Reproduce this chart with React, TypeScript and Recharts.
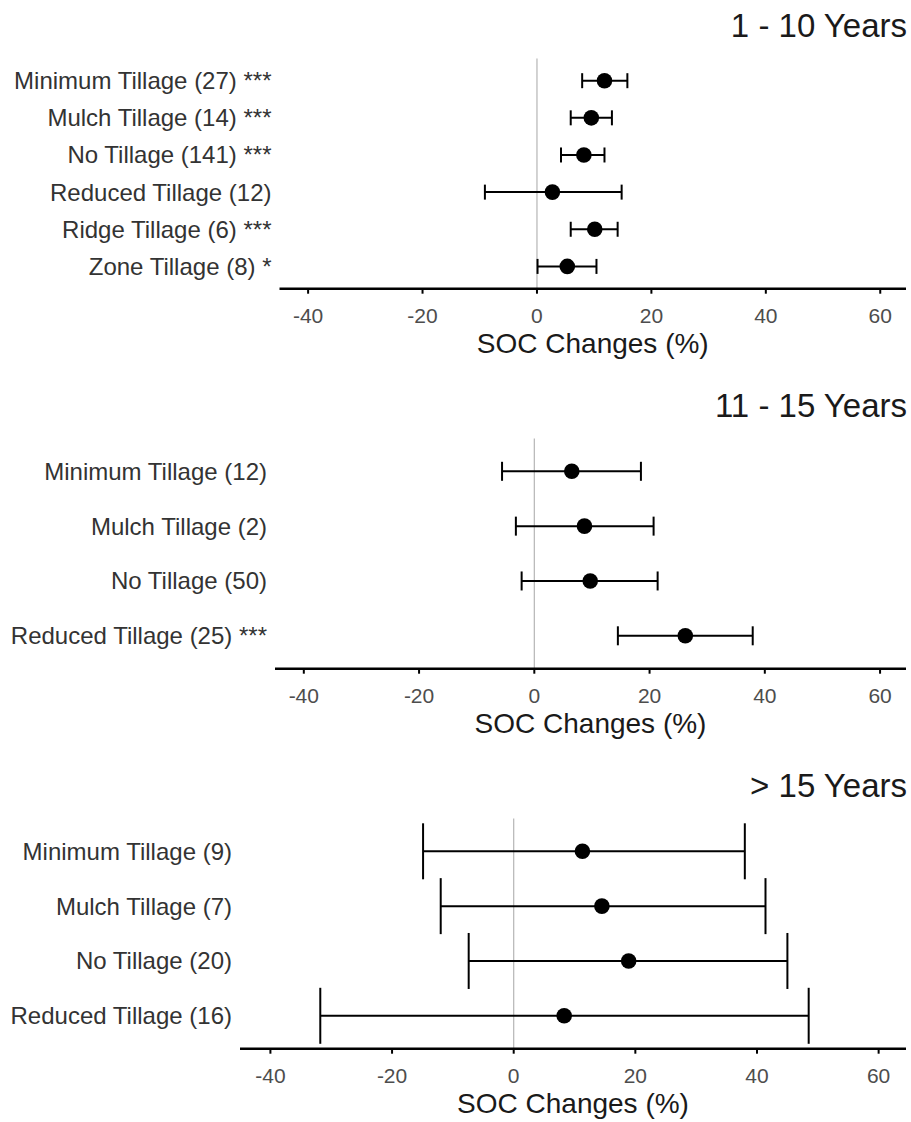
import React from 'react';
import { ScatterChart, Scatter, XAxis, YAxis, ErrorBar, ReferenceLine } from 'recharts';

const xTicks = [-40, -20, 0, 20, 40, 60];

// 1 - 10 years
const shortLabels = [
  'Minimum Tillage (27) ***',
  'Mulch Tillage (14) ***',
  'No Tillage (141) ***',
  'Reduced Tillage (12)',
  'Ridge Tillage (6) ***',
  'Zone Tillage (8) *',
];
const shortMean = [11.8, 9.5, 8.2, 2.7, 10.1, 5.3];
const shortLow = [7.9, 5.9, 4.2, -9.1, 5.9, 0.1];
const shortHigh = [15.8, 13.1, 11.8, 14.8, 14.1, 10.4];

// 11 - 15 years
const midLabels = [
  'Minimum Tillage (12)',
  'Mulch Tillage (2)',
  'No Tillage (50)',
  'Reduced Tillage (25) ***',
];
const midMean = [6.5, 8.7, 9.7, 26.2];
const midLow = [-5.6, -3.2, -2.2, 14.5];
const midHigh = [18.5, 20.7, 21.4, 37.9];

// > 15 years
const longLabels = [
  'Minimum Tillage (9)',
  'Mulch Tillage (7)',
  'No Tillage (20)',
  'Reduced Tillage (16)',
];
const longMean = [11.3, 14.5, 18.9, 8.3];
const longLow = [-14.9, -12.0, -7.4, -31.8];
const longHigh = [38.0, 41.4, 45.0, 48.5];

const FONT = '"Liberation Sans", Arial, sans-serif';

function buildRows(mean: number[], low: number[], high: number[]) {
  return mean.map((m, i) => ({ pos: i, mean: m, err: [m - low[i], high[i] - m] }));
}

interface PanelProps {
  title: string;
  labels: string[];
  mean: number[];
  low: number[];
  high: number[];
  axisWidth: number;
  cap: number;
  top: number;
}

function Panel({ title, labels, mean, low, high, axisWidth, cap, top }: PanelProps) {
  const rows = buildRows(mean, low, high);
  const n = labels.length;
  return (
    <div style={{ position: 'absolute', left: 0, top, width: 911, height: 380 }}>
      <ScatterChart
        width={911}
        height={380}
        margin={{ top: 58.4, right: 5, bottom: 10, left: 0 }}
      >
        <XAxis
          type="number"
          dataKey="mean"
          domain={[-45, 64.5]}
          ticks={xTicks}
          interval={0}
          height={81.3}
          tickSize={5}
          tickMargin={14}
          axisLine={{ stroke: '#000', strokeWidth: 2.5 }}
          tickLine={{ stroke: '#000', strokeWidth: 2 }}
          tick={{ fill: '#4d4d4d', fontSize: 21, fontFamily: FONT }}
          label={{
            value: 'SOC Changes (%)',
            position: 'insideBottom',
            offset: 17,
            fill: '#1a1a1a',
            fontSize: 28,
            fontFamily: FONT,
          }}
        />
        <YAxis
          type="number"
          dataKey="pos"
          reversed
          domain={[-0.6, n - 0.4]}
          ticks={labels.map((_, i) => i)}
          interval={0}
          width={axisWidth}
          axisLine={false}
          tickLine={false}
          tickSize={0}
          tickMargin={8}
          tickFormatter={(v: number) => labels[v] ?? ''}
          tick={{ fill: '#333333', fontSize: 24, fontFamily: FONT }}
        />
        <ReferenceLine x={0} stroke="#b5b5b5" strokeWidth={1.2} />
        <Scatter
          data={rows}
          isAnimationActive={false}
          shape={(p: any) => <circle cx={p.cx} cy={p.cy} r={7.8} fill="#000" />}
        >
          <ErrorBar
            dataKey="err"
            direction="x"
            width={cap}
            stroke="#000"
            strokeWidth={2}
            isAnimationActive={false}
          />
        </Scatter>
      </ScatterChart>
      <svg
        width={911}
        height={60}
        style={{ position: 'absolute', left: 0, top: 0, pointerEvents: 'none' }}
      >
        <text x={907} y={36.7} textAnchor="end" fontSize={33} fontFamily={FONT} fill="#1a1a1a">
          {title}
        </text>
      </svg>
    </div>
  );
}

export default function App() {
  return (
    <div
      style={{
        position: 'absolute',
        left: 0,
        top: 0,
        width: 911,
        height: 1122,
        overflow: 'hidden',
        background: '#fff',
      }}
    >
      <Panel
        title="1 - 10 Years"
        labels={shortLabels}
        mean={shortMean}
        low={shortLow}
        high={shortHigh}
        axisWidth={279.5}
        cap={7.5}
        top={0}
      />
      <Panel
        title="11 - 15 Years"
        labels={midLabels}
        mean={midMean}
        low={midLow}
        high={midHigh}
        axisWidth={275}
        cap={9.5}
        top={380}
      />
      <Panel
        title="> 15 Years"
        labels={longLabels}
        mean={longMean}
        low={longLow}
        high={longHigh}
        axisWidth={240}
        cap={28}
        top={760}
      />
    </div>
  );
}
